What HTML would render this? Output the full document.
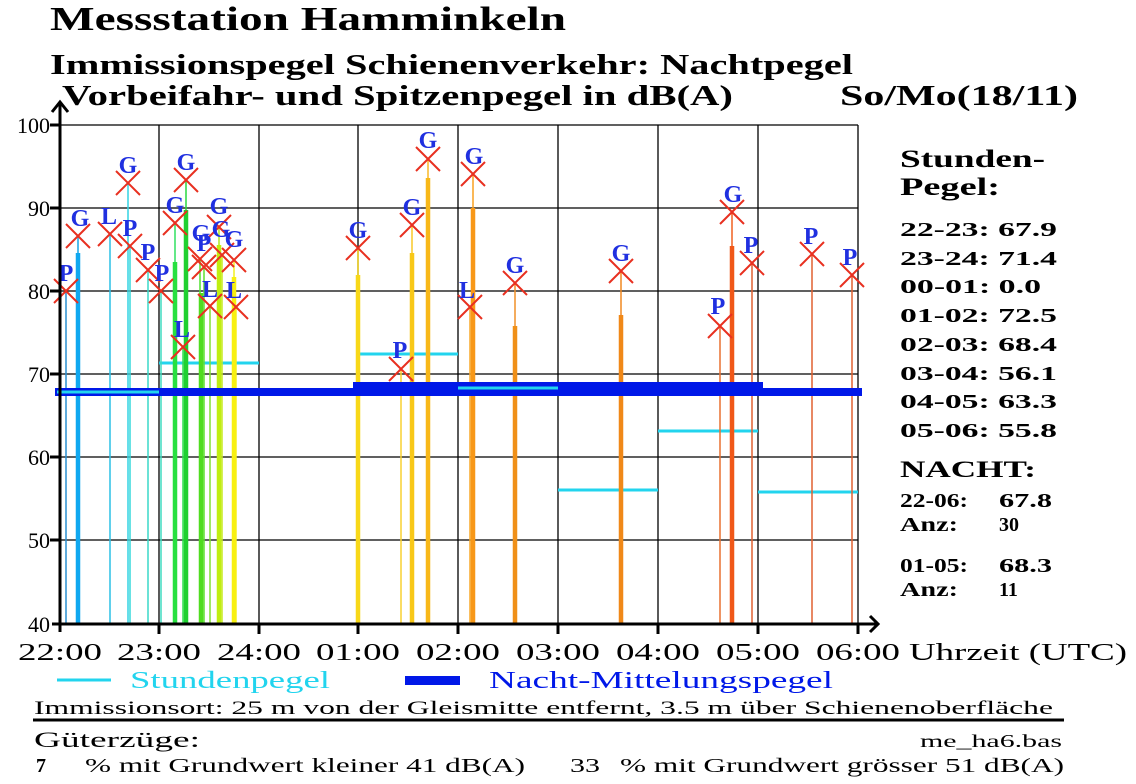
<!DOCTYPE html>
<html><head><meta charset="utf-8"><style>
html,body{margin:0;padding:0;background:#fff;}
svg{display:block;}
text{font-family:"Liberation Serif",serif;}
</style></head><body>
<svg width="1136" height="784" viewBox="0 0 1136 784" xmlns="http://www.w3.org/2000/svg">
<rect width="1136" height="784" fill="#fff"/>
<text x="50" y="30" font-size="34" font-weight="bold" textLength="516" lengthAdjust="spacingAndGlyphs">Messstation Hamminkeln</text>
<text x="50" y="74" font-size="28" font-weight="bold" textLength="803" lengthAdjust="spacingAndGlyphs">Immissionspegel Schienenverkehr: Nachtpegel</text>
<text x="62" y="105" font-size="28" font-weight="bold" textLength="671" lengthAdjust="spacingAndGlyphs">Vorbeifahr- und Spitzenpegel in dB(A)</text>
<text x="840" y="105" font-size="28" font-weight="bold" textLength="238" lengthAdjust="spacingAndGlyphs">So/Mo(18/11)</text>
<!-- grid -->
<g stroke="#000" stroke-width="1.3">
<line x1="60" y1="125" x2="858" y2="125"/><line x1="60" y1="208" x2="858" y2="208"/><line x1="60" y1="291" x2="858" y2="291"/><line x1="60" y1="374" x2="858" y2="374"/><line x1="60" y1="457" x2="858" y2="457"/><line x1="60" y1="540" x2="858" y2="540"/>
<line x1="159" y1="125" x2="159" y2="624"/><line x1="259" y1="125" x2="259" y2="624"/><line x1="358" y1="125" x2="358" y2="624"/><line x1="458" y1="125" x2="458" y2="624"/><line x1="558" y1="125" x2="558" y2="624"/><line x1="658" y1="125" x2="658" y2="624"/><line x1="758" y1="125" x2="758" y2="624"/><line x1="858" y1="125" x2="858" y2="624"/>
</g>
<g stroke="#22d4ee" stroke-width="3">
<line x1="159" y1="363" x2="259" y2="363"/><line x1="358" y1="354" x2="458" y2="354"/><line x1="558" y1="490" x2="658" y2="490"/><line x1="658" y1="431" x2="758" y2="431"/><line x1="758" y1="492" x2="858" y2="492"/>
</g>
<g stroke-width="1.5">
<line x1="66" y1="624" x2="66" y2="291" stroke="#2a8fd0"/>
<line x1="78" y1="624" x2="78" y2="236" stroke="#16a6e6"/>
<line x1="110" y1="624" x2="110" y2="234" stroke="#2cc0e6"/>
<line x1="128" y1="624" x2="128" y2="183" stroke="#33d4e4"/>
<line x1="130" y1="624" x2="130" y2="246" stroke="#36d8dc"/>
<line x1="148" y1="624" x2="148" y2="270" stroke="#3ad8c8"/>
<line x1="161" y1="624" x2="161" y2="291" stroke="#40dcc0"/>
<line x1="175" y1="624" x2="175" y2="223" stroke="#30e060"/>
<line x1="183" y1="624" x2="183" y2="347" stroke="#30e050"/>
<line x1="186" y1="624" x2="186" y2="180" stroke="#28d840"/>
<line x1="200" y1="624" x2="200" y2="259" stroke="#50e030"/>
<line x1="204" y1="624" x2="204" y2="267" stroke="#60e030"/>
<line x1="210" y1="624" x2="210" y2="306" stroke="#80e030"/>
<line x1="219" y1="624" x2="219" y2="227" stroke="#b0e820"/>
<line x1="222" y1="624" x2="222" y2="255" stroke="#c8ec20"/>
<line x1="234" y1="624" x2="234" y2="260" stroke="#f0f020"/>
<line x1="236" y1="624" x2="236" y2="307" stroke="#f4f020"/>
<line x1="358" y1="624" x2="358" y2="248" stroke="#f8d820"/>
<line x1="401" y1="624" x2="401" y2="369" stroke="#f8d030"/>
<line x1="412" y1="624" x2="412" y2="225" stroke="#f8c828"/>
<line x1="428" y1="624" x2="428" y2="159" stroke="#f8b828"/>
<line x1="470" y1="624" x2="470" y2="307" stroke="#f8a828"/>
<line x1="473" y1="624" x2="473" y2="174" stroke="#f8a020"/>
<line x1="515" y1="624" x2="515" y2="283" stroke="#f09028"/>
<line x1="621" y1="624" x2="621" y2="271" stroke="#f08820"/>
<line x1="720" y1="624" x2="720" y2="326" stroke="#e87030"/>
<line x1="732" y1="624" x2="732" y2="212" stroke="#f06020"/>
<line x1="752" y1="624" x2="752" y2="263" stroke="#e06030"/>
<line x1="812" y1="624" x2="812" y2="254" stroke="#e06030"/>
<line x1="852" y1="624" x2="852" y2="275" stroke="#e06030"/>
</g>
<g stroke-width="4.5">
<line x1="78" y1="624" x2="78" y2="253" stroke="#10a8f0"/>
<line x1="175" y1="624" x2="175" y2="262" stroke="#28e040"/>
<line x1="186" y1="624" x2="186" y2="210" stroke="#20d030"/>
<line x1="201" y1="624" x2="201" y2="293" stroke="#50dc20"/>
<line x1="219" y1="624" x2="219" y2="245" stroke="#c0ee10"/>
<line x1="234" y1="624" x2="234" y2="277" stroke="#f8f010"/>
<line x1="358" y1="624" x2="358" y2="275" stroke="#f8d818"/>
<line x1="412" y1="624" x2="412" y2="253" stroke="#f8c818"/>
<line x1="428" y1="624" x2="428" y2="178" stroke="#f8b818"/>
<line x1="473" y1="624" x2="473" y2="208" stroke="#f89818"/>
<line x1="515" y1="624" x2="515" y2="326" stroke="#f09018"/>
<line x1="621" y1="624" x2="621" y2="315" stroke="#f08818"/>
<line x1="732" y1="624" x2="732" y2="246" stroke="#f05818"/>
</g>
<rect x="55" y="388" width="807" height="8" fill="#0018e8"/>
<rect x="353" y="382" width="410" height="10" fill="#0018e8"/>
<line x1="57" y1="392" x2="159" y2="392" stroke="#22d4ee" stroke-width="3"/>
<line x1="458" y1="388" x2="558" y2="388" stroke="#22d4ee" stroke-width="3"/>
<g stroke="#e83020" stroke-width="2">
<path d="M54,279l24,24M78,279l-24,24"/>
<path d="M66,224l24,24M90,224l-24,24"/>
<path d="M98,222l24,24M122,222l-24,24"/>
<path d="M116,171l24,24M140,171l-24,24"/>
<path d="M118,234l24,24M142,234l-24,24"/>
<path d="M136,258l24,24M160,258l-24,24"/>
<path d="M149,279l24,24M173,279l-24,24"/>
<path d="M163,211l24,24M187,211l-24,24"/>
<path d="M171,335l24,24M195,335l-24,24"/>
<path d="M174,168l24,24M198,168l-24,24"/>
<path d="M188,247l24,24M212,247l-24,24"/>
<path d="M192,255l24,24M216,255l-24,24"/>
<path d="M198,294l24,24M222,294l-24,24"/>
<path d="M207,215l24,24M231,215l-24,24"/>
<path d="M210,243l24,24M234,243l-24,24"/>
<path d="M222,248l24,24M246,248l-24,24"/>
<path d="M224,295l24,24M248,295l-24,24"/>
<path d="M346,236l24,24M370,236l-24,24"/>
<path d="M389,357l24,24M413,357l-24,24"/>
<path d="M400,213l24,24M424,213l-24,24"/>
<path d="M416,147l24,24M440,147l-24,24"/>
<path d="M458,295l24,24M482,295l-24,24"/>
<path d="M461,162l24,24M485,162l-24,24"/>
<path d="M503,271l24,24M527,271l-24,24"/>
<path d="M609,259l24,24M633,259l-24,24"/>
<path d="M708,314l24,24M732,314l-24,24"/>
<path d="M720,200l24,24M744,200l-24,24"/>
<path d="M740,251l24,24M764,251l-24,24"/>
<path d="M800,242l24,24M824,242l-24,24"/>
<path d="M840,263l24,24M864,263l-24,24"/>
</g>
<g fill="#2030e0" font-size="24" font-weight="bold" text-anchor="middle">
<text x="66" y="281">P</text><text x="80" y="226">G</text><text x="109" y="224">L</text><text x="128" y="173">G</text><text x="130" y="236">P</text><text x="148" y="260">P</text><text x="162" y="281">P</text><text x="175" y="213">G</text><text x="182" y="337">L</text><text x="186" y="170">G</text><text x="201" y="241">G</text><text x="204" y="251">P</text><text x="210" y="297">L</text><text x="219" y="214">G</text><text x="221" y="237">G</text><text x="234" y="247">G</text><text x="234" y="298">L</text>
<text x="358" y="238">G</text><text x="400" y="358">P</text><text x="412" y="215">G</text><text x="428" y="148">G</text><text x="467" y="298">L</text><text x="474" y="164">G</text><text x="515" y="273">G</text><text x="621" y="261">G</text><text x="718" y="314">P</text><text x="733" y="202">G</text><text x="751" y="253">P</text><text x="811" y="244">P</text><text x="850" y="265">P</text>
</g>
<g stroke="#000" stroke-width="3" fill="none">
<line x1="60" y1="102" x2="60" y2="632"/>
<line x1="52" y1="624" x2="878" y2="624"/>
<path d="M52,112l8,-10l8,10"/>
<path d="M870,616l8,8l-8,8"/>
<line x1="50" y1="125" x2="60" y2="125"/><line x1="50" y1="208" x2="60" y2="208"/><line x1="50" y1="291" x2="60" y2="291"/><line x1="50" y1="374" x2="60" y2="374"/><line x1="50" y1="457" x2="60" y2="457"/><line x1="50" y1="540" x2="60" y2="540"/>
<line x1="159" y1="624" x2="159" y2="634"/><line x1="259" y1="624" x2="259" y2="634"/><line x1="358" y1="624" x2="358" y2="634"/><line x1="458" y1="624" x2="458" y2="634"/><line x1="558" y1="624" x2="558" y2="634"/><line x1="658" y1="624" x2="658" y2="634"/><line x1="758" y1="624" x2="758" y2="634"/><line x1="858" y1="624" x2="858" y2="634"/>
</g>
<g font-size="22" text-anchor="end">
<text x="50" y="133">100</text><text x="50" y="216">90</text><text x="50" y="299">80</text><text x="50" y="382">70</text><text x="50" y="465">60</text><text x="50" y="548">50</text><text x="50" y="632">40</text>
</g>
<g font-size="24">
<text x="18" y="660" textLength="84" lengthAdjust="spacingAndGlyphs">22:00</text><text x="117" y="660" textLength="84" lengthAdjust="spacingAndGlyphs">23:00</text><text x="217" y="660" textLength="84" lengthAdjust="spacingAndGlyphs">24:00</text><text x="316" y="660" textLength="84" lengthAdjust="spacingAndGlyphs">01:00</text><text x="416" y="660" textLength="84" lengthAdjust="spacingAndGlyphs">02:00</text><text x="516" y="660" textLength="84" lengthAdjust="spacingAndGlyphs">03:00</text><text x="616" y="660" textLength="84" lengthAdjust="spacingAndGlyphs">04:00</text><text x="716" y="660" textLength="84" lengthAdjust="spacingAndGlyphs">05:00</text><text x="816" y="660" textLength="84" lengthAdjust="spacingAndGlyphs">06:00</text>
</g>
<text x="909" y="660" font-size="24" textLength="218" lengthAdjust="spacingAndGlyphs">Uhrzeit (UTC)</text>
<g font-weight="bold">
<text x="900" y="167" font-size="25" textLength="145" lengthAdjust="spacingAndGlyphs">Stunden-</text>
<text x="900" y="195" font-size="25" textLength="100" lengthAdjust="spacingAndGlyphs">Pegel:</text>
<g font-size="20">
<text x="900" y="236" textLength="157" lengthAdjust="spacingAndGlyphs">22-23: 67.9</text><text x="900" y="265" textLength="157" lengthAdjust="spacingAndGlyphs">23-24: 71.4</text><text x="900" y="293" textLength="141" lengthAdjust="spacingAndGlyphs">00-01: 0.0</text><text x="900" y="322" textLength="157" lengthAdjust="spacingAndGlyphs">01-02: 72.5</text><text x="900" y="351" textLength="157" lengthAdjust="spacingAndGlyphs">02-03: 68.4</text><text x="900" y="380" textLength="157" lengthAdjust="spacingAndGlyphs">03-04: 56.1</text><text x="900" y="408" textLength="157" lengthAdjust="spacingAndGlyphs">04-05: 63.3</text><text x="900" y="437" textLength="157" lengthAdjust="spacingAndGlyphs">05-06: 55.8</text>
</g>
<text x="900" y="477" font-size="23" textLength="136" lengthAdjust="spacingAndGlyphs">NACHT:</text>
<g font-size="20">
<text x="900" y="507" textLength="68" lengthAdjust="spacingAndGlyphs">22-06:</text><text x="999" y="507" textLength="53" lengthAdjust="spacingAndGlyphs">67.8</text>
<text x="900" y="531" textLength="58" lengthAdjust="spacingAndGlyphs">Anz:</text><text x="999" y="531">30</text>
<text x="900" y="572" textLength="68" lengthAdjust="spacingAndGlyphs">01-05:</text><text x="999" y="572" textLength="53" lengthAdjust="spacingAndGlyphs">68.3</text>
<text x="900" y="596" textLength="58" lengthAdjust="spacingAndGlyphs">Anz:</text><text x="999" y="596">11</text>
</g>
</g>
<line x1="57" y1="680" x2="111" y2="680" stroke="#22d4ee" stroke-width="3"/>
<text x="130" y="688" font-size="24" fill="#22d4ee" textLength="200" lengthAdjust="spacingAndGlyphs">Stundenpegel</text>
<rect x="405" y="676" width="55" height="9" fill="#0018e8"/>
<text x="489" y="688" font-size="24" fill="#0018e8" textLength="344" lengthAdjust="spacingAndGlyphs">Nacht-Mittelungspegel</text>
<text x="34" y="714" font-size="19" textLength="1019" lengthAdjust="spacingAndGlyphs">Immissionsort: 25 m von der Gleismitte entfernt, 3.5 m über Schienenoberfläche</text>
<line x1="33" y1="720" x2="1064" y2="720" stroke="#000" stroke-width="3"/>
<text x="34" y="747" font-size="22" textLength="166" lengthAdjust="spacingAndGlyphs">Güterzüge:</text>
<text x="920" y="747" font-size="18" textLength="142" lengthAdjust="spacingAndGlyphs">me_ha6.bas</text>
<text x="36" y="772" font-size="20" font-weight="bold">7</text>
<text x="85" y="772" font-size="20" textLength="440" lengthAdjust="spacingAndGlyphs">% mit Grundwert kleiner 41 dB(A)</text>
<text x="570" y="772" font-size="20" textLength="30" lengthAdjust="spacingAndGlyphs">33</text>
<text x="620" y="772" font-size="20" textLength="444" lengthAdjust="spacingAndGlyphs">% mit Grundwert grösser 51 dB(A)</text>
</svg>
</body></html>
